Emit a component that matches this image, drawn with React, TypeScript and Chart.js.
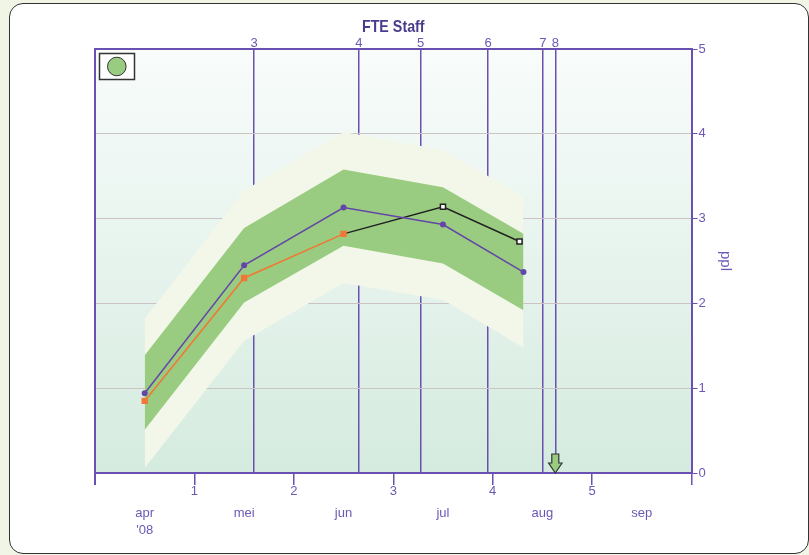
import React, { useEffect, useRef } from 'react';
import { Chart, registerables } from 'chart.js';

Chart.register(...registerables);

// ---- data ----
const bandX = [0.5, 1.5, 2.5, 3.5, 4.31];
const outerUpper = [1.82, 3.33, 4.02, 3.81, 3.26];
const greenUpper = [1.39, 2.89, 3.58, 3.37, 2.82];
const greenLower = [0.51, 2.01, 2.68, 2.47, 1.92];
const outerLower = [0.06, 1.56, 2.24, 2.04, 1.48];

const purpleX = [0.5, 1.5, 2.5, 3.5, 4.31];
const purpleY = [0.94, 2.45, 3.13, 2.93, 2.37];
const orangeX = [0.5, 1.5, 2.5];
const orangeY = [0.85, 2.3, 2.82];
const blackX = [2.5, 3.5, 4.27];
const blackY = [2.82, 3.14, 2.73];

const markerX = [1.6, 2.655, 3.275, 3.955, 4.505, 4.63];
const markerLabels = ['3', '4', '5', '6', '7', '8'];
const periodTicks = [0, 1, 2, 3, 4, 5, 6];
const periodLabels = ['', '1', '2', '3', '4', '5', ''];
const monthX = [0.5, 1.5, 2.5, 3.5, 4.5, 5.5];
const monthLabels: (string | string[])[] = [['apr', "'08"], 'mei', 'jun', 'jul', 'aug', 'sep'];
const yTicks = [0, 1, 2, 3, 4, 5];
const arrowX = 4.63;
const titleText = 'FTE Staff';
const yTitle = 'ppl';

// ---- styles ----
const FONT = "'Liberation Sans', Arial, sans-serif";
const PURPLE = 'rgb(106,80,178)';
const LABEL = 'rgb(108,88,180)';
const GRID = 'rgb(204,196,196)';
const GREEN = 'rgb(153,204,128)';
const LIGHT = 'rgb(243,247,233)';

const pts = (xs: number[], ys: number[]) => xs.map((x, i) => ({ x, y: ys[i] }));

const decor = {
  id: 'decor',
  beforeDraw(chart: any) {
    const { ctx, chartArea } = chart;
    const { left, top, right, bottom } = chartArea;
    const g = ctx.createLinearGradient(0, top, 0, bottom);
    g.addColorStop(0, 'rgb(248,252,251)');
    g.addColorStop(1, 'rgb(213,235,223)');
    ctx.save();
    ctx.fillStyle = g;
    ctx.fillRect(left, top, right - left, bottom - top);
    ctx.restore();
  },
  afterDraw(chart: any) {
    const { ctx, chartArea } = chart;
    const { left, top, right, bottom } = chartArea;
    ctx.save();
    // left border
    ctx.strokeStyle = PURPLE;
    ctx.lineWidth = 2;
    ctx.beginPath();
    ctx.moveTo(left, top);
    ctx.lineTo(left, bottom + 12);
    ctx.stroke();

    // title (condensed)
    ctx.save();
    ctx.fillStyle = 'rgb(74,60,140)';
    ctx.font = `bold 17px ${FONT}`;
    ctx.textAlign = 'center';
    ctx.textBaseline = 'middle';
    ctx.translate((left + right) / 2, 27);
    ctx.scale(0.84, 1);
    ctx.fillText(titleText, 0, 0);
    ctx.restore();

    // legend box
    ctx.fillStyle = '#ffffff';
    ctx.fillRect(99.5, 53.5, 35, 26);
    ctx.strokeStyle = '#333333';
    ctx.lineWidth = 1.5;
    ctx.strokeRect(99.5, 53.5, 35, 26);
    ctx.beginPath();
    ctx.arc(116.8, 66.5, 9.3, 0, Math.PI * 2);
    ctx.fillStyle = GREEN;
    ctx.fill();
    ctx.lineWidth = 1;
    ctx.strokeStyle = '#333333';
    ctx.stroke();

    // arrow
    const ax = chart.scales.x.getPixelForValue(arrowX);
    const tip = bottom;
    ctx.beginPath();
    ctx.moveTo(ax - 3.5, tip - 19);
    ctx.lineTo(ax + 3.5, tip - 19);
    ctx.lineTo(ax + 3.5, tip - 10);
    ctx.lineTo(ax + 6.7, tip - 10);
    ctx.lineTo(ax, tip);
    ctx.lineTo(ax - 6.7, tip - 10);
    ctx.lineTo(ax - 3.5, tip - 10);
    ctx.closePath();
    ctx.fillStyle = GREEN;
    ctx.fill();
    ctx.strokeStyle = '#333333';
    ctx.lineWidth = 1.2;
    ctx.stroke();
    ctx.restore();
  },
};

export default function App() {
  const ref = useRef<HTMLCanvasElement | null>(null);

  useEffect(() => {
    if (!ref.current) return;
    const tickFont = { family: FONT, size: 13, lineHeight: 1 };
    const chart = new Chart(ref.current, {
      type: 'line',
      data: {
        datasets: [
          {
            data: pts(bandX, outerUpper),
            fill: '+1',
            backgroundColor: LIGHT,
            borderWidth: 0,
            pointRadius: 0,
            order: 10,
          },
          {
            data: pts(bandX, outerLower),
            fill: false,
            borderWidth: 0,
            pointRadius: 0,
            order: 10,
          },
          {
            data: pts(bandX, greenUpper),
            fill: '+1',
            backgroundColor: GREEN,
            borderWidth: 0,
            pointRadius: 0,
            order: 5,
          },
          {
            data: pts(bandX, greenLower),
            fill: false,
            borderWidth: 0,
            pointRadius: 0,
            order: 5,
          },
          {
            data: pts(blackX, blackY),
            borderColor: '#222222',
            borderWidth: 1.5,
            pointStyle: 'rect',
            pointRadius: [0, 3.6, 3.6],
            pointBackgroundColor: '#ffffff',
            pointBorderColor: '#222222',
            pointBorderWidth: 1.5,
            fill: false,
            order: 2,
          },
          {
            data: pts(orangeX, orangeY),
            borderColor: 'rgb(240,120,52)',
            borderWidth: 1.5,
            pointStyle: 'rect',
            pointRadius: 4.5,
            pointBackgroundColor: 'rgb(240,120,52)',
            pointBorderWidth: 0,
            fill: false,
            order: 1,
          },
          {
            data: pts(purpleX, purpleY),
            borderColor: 'rgb(100,70,168)',
            borderWidth: 1.5,
            pointStyle: 'circle',
            pointRadius: 3,
            pointBackgroundColor: 'rgb(100,70,168)',
            pointBorderWidth: 0,
            fill: false,
            order: 0,
          },
        ],
      },
      options: {
        responsive: false,
        maintainAspectRatio: false,
        animation: false,
        devicePixelRatio: 1,
        layout: { padding: { left: 95, right: 0, top: 0, bottom: 0 } },
        plugins: {
          legend: { display: false },
          title: { display: false },
          tooltip: { enabled: false },
        },
        scales: {
          x: {
            type: 'linear',
            position: 'bottom',
            min: 0,
            max: 6,
            weight: 0,
            afterBuildTicks: (s: any) => {
              s.ticks = periodTicks.map((v) => ({ value: v }));
            },
            afterFit: (s: any) => {
              s.height = 28;
            },
            ticks: {
              callback: (_v: any, i: number) => periodLabels[i],
              color: LABEL,
              font: tickFont,
              padding: 0,
              autoSkip: false,
              maxRotation: 0,
            },
            grid: {
              drawOnChartArea: false,
              drawTicks: true,
              tickLength: 12,
              color: PURPLE,
              lineWidth: 1.5,
            },
            border: { display: true, color: PURPLE, width: 2 },
          },
          xm: {
            type: 'linear',
            position: 'bottom',
            min: 0,
            max: 6,
            weight: 1,
            afterBuildTicks: (s: any) => {
              s.ticks = monthX.map((v) => ({ value: v }));
            },
            afterFit: (s: any) => {
              s.height = 54;
            },
            ticks: {
              callback: (_v: any, i: number) => monthLabels[i],
              color: LABEL,
              font: { family: FONT, size: 13, lineHeight: 1.38 },
              padding: 3,
              autoSkip: false,
              maxRotation: 0,
            },
            grid: { display: false, drawTicks: false },
            border: { display: false },
          },
          xt: {
            type: 'linear',
            position: 'top',
            min: 0,
            max: 6,
            afterBuildTicks: (s: any) => {
              s.ticks = markerX.map((v) => ({ value: v }));
            },
            afterFit: (s: any) => {
              s.height = 49;
            },
            ticks: {
              callback: (_v: any, i: number) => markerLabels[i],
              color: LABEL,
              font: { family: FONT, size: 13, lineHeight: 0.9 },
              padding: 0,
              autoSkip: false,
              maxRotation: 0,
            },
            grid: {
              drawOnChartArea: true,
              drawTicks: false,
              color: PURPLE,
              lineWidth: 1.5,
            },
            border: { display: true, color: PURPLE, width: 2 },
          },
          y: {
            type: 'linear',
            position: 'right',
            min: 0,
            max: 5,
            afterBuildTicks: (s: any) => {
              s.ticks = yTicks.map((v) => ({ value: v }));
            },
            afterFit: (s: any) => {
              s.width = 809 - 691.5;
            },
            ticks: {
              color: LABEL,
              font: tickFont,
              padding: 1,
            },
            grid: {
              color: GRID,
              lineWidth: 1,
              tickColor: PURPLE,
              tickLength: 6,
              drawTicks: true,
            },
            border: { display: true, color: PURPLE, width: 2 },
            title: {
              display: true,
              text: yTitle,
              color: LABEL,
              font: { family: FONT, size: 15, lineHeight: 1.2 },
              padding: { top: 75, bottom: 0 },
            },
          },
        },
      },
      plugins: [decor],
    } as any);
    return () => chart.destroy();
  }, []);

  return (
    <div
      style={{
        position: 'fixed',
        left: 0,
        top: 0,
        width: 809,
        height: 555,
        background: 'rgb(240,245,230)',
        overflow: 'hidden',
      }}
    >
      <div
        style={{
          position: 'absolute',
          left: 9,
          top: 3,
          width: 800,
          height: 551,
          boxSizing: 'border-box',
          border: '1.5px solid #333',
          borderRadius: 14,
          background: '#ffffff',
        }}
      />
      <canvas
        ref={ref}
        width={809}
        height={555}
        style={{ position: 'absolute', left: 0, top: 0, width: 809, height: 555 }}
      />
    </div>
  );
}
